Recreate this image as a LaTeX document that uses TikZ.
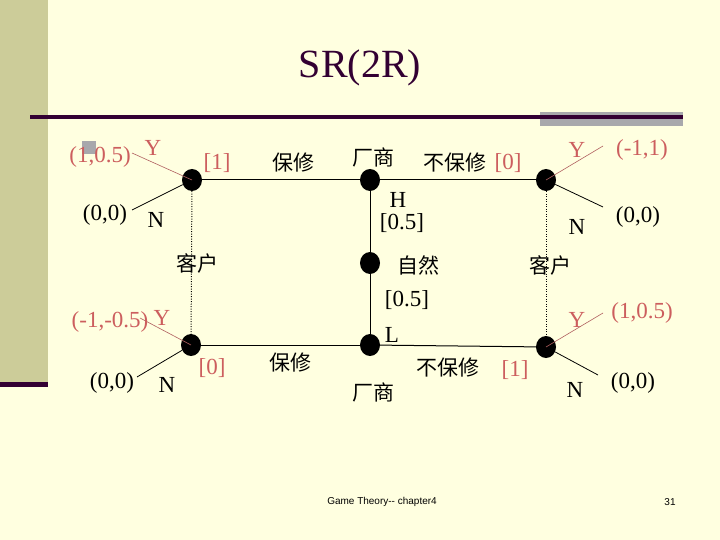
\documentclass[tikz,border=0pt]{standalone}
\usepackage{fontspec}
\setmainfont{Liberation Serif}
\newfontfamily\cjk{Noto Sans CJK SC}
\newfontfamily\footfont{Liberation Sans}
\usetikzlibrary{shapes.geometric}
\definecolor{slidebg}{HTML}{FFFFE0}
\definecolor{bandfill}{HTML}{CCCC99}
\definecolor{ttlplum}{HTML}{330033}
\definecolor{barsilver}{HTML}{A8A8AC}
\definecolor{payred}{HTML}{CC5E5E}
\definecolor{ylink}{HTML}{B06060}
\tikzset{
  dnode/.style={ellipse, fill=black, inner sep=0pt, minimum width=20pt, minimum height=22pt},
  gline/.style={draw=black, line width=1pt},
  ybr/.style={draw=ylink, line width=0.6pt},
  nbr/.style={draw=black, line width=0.8pt},
  infoset/.style={draw=black, line width=1pt, dash pattern=on 1pt off 1.5pt},
  lbl/.style={font=\fontsize{23}{27}\selectfont, inner sep=0pt},
  lblred/.style={lbl, text=payred},
  cn/.style={font=\fontsize{21}{25}\selectfont\cjk, inner sep=0pt},
  ttl/.style={font=\fontsize{40}{46}\selectfont, text=ttlplum, inner sep=0pt},
  foot/.style={font=\fontsize{10}{12}\selectfont\footfont, inner sep=0pt},
}

\begin{document}
\begin{tikzpicture}[x=1pt,y=-1pt]
  \fill[slidebg] (0,0) rectangle (720,540);
  \useasboundingbox (0,0) rectangle (720,540);
  % slide frame
  \fill[bandfill] (0,0) rectangle (48,382);
  \fill[ttlplum] (0,382) rectangle (48,387);
  \fill[barsilver] (540,112) rectangle (683,126);
  \fill[ttlplum] (30,115.5) rectangle (683,119);
  \node[ttl] (title) at (360,68) {SR(2R)};

  % decision nodes
  \node[dnode] (nat) at (370,263) {};
  \node[dnode] (mH) at (370,180) {};
  \node[dnode] (mL) at (370,345) {};
  \node[dnode] (cHw) at (192,180) {};
  \node[dnode] (cHn) at (546,180) {};
  \node[dnode] (cLw) at (191,345) {};
  \node[dnode] (cLn) at (546,347) {};

  \draw[gline] (mH) -- (nat);
  \draw[gline] (nat) -- (mL);
  \draw[gline] (cHw) -- (mH);
  \draw[gline] (mH) -- (cHn);
  \draw[gline] (cLw) -- (mL);
  \draw[gline] (mL) -- (cLn);
  \draw[infoset] (cHw) -- (cLw);
  \draw[infoset] (cHn) -- (cLn);

  % payoff branches
  \coordinate (endYa) at (132,153);
  \coordinate (endNa) at (132,210);
  \coordinate (endYb) at (603,146);
  \coordinate (endNb) at (603,207);
  \coordinate (endYc) at (140,318);
  \coordinate (endNc) at (137,377);
  \coordinate (endYd) at (603,313);
  \coordinate (endNd) at (598,375);
  \draw[ybr] (cHw.center) -- (endYa);
  \draw[nbr] (cHw) -- (endNa);
  \draw[ybr] (cHn.center) -- (endYb);
  \draw[nbr] (cHn) -- (endNb);
  \draw[ybr] (cLw.center) -- (endYc);
  \draw[nbr] (cLw) -- (endNc);
  \draw[ybr] (cLn.center) -- (endYd);
  \draw[nbr] (cLn) -- (endNd);

  % labels, top half
  \fill[barsilver] (82,141) rectangle (96,154);
  \node[lblred] (payHwY) at (100,157) {(1,0.5)};
  \node[lblred] (yHw) at (153,148) {Y};
  \node[lbl] (payHwN) at (105,215) {(0,0)};
  \node[lbl] (nHw) at (156,220) {N};
  \node[lblred] (prHw) at (217,163) {[1]};
  \node[cn] (warrH) at (293,163) {保修};
  \node[cn] (firmH) at (373,157) {厂商};
  \node[cn] (nowarrH) at (455,163) {不保修};
  \node[lblred] (prHn) at (508,163) {[0]};
  \node[lbl] (typeH) at (398,200) {H};
  \node[lbl] (probH) at (402,223) {[0.5]};
  \node[cn] (natlbl) at (418,265) {自然};
  \node[lblred] (yHn) at (577,150) {Y};
  \node[lblred] (payHnY) at (642,150) {(-1,1)};
  \node[lbl] (nHn) at (577,227) {N};
  \node[lbl] (payHnN) at (638,217) {(0,0)};
  \node[cn] (custR) at (550,265) {客户};
  \node[cn] (custL) at (197,263) {客户};

  % labels, bottom half
  \node[lblred] (payLwY) at (110,322) {(-1,-0.5)};
  \node[lblred] (yLw) at (162,318) {Y};
  \node[lbl] (payLwN) at (112,383) {(0,0)};
  \node[lbl] (nLw) at (167,385) {N};
  \node[lblred] (prLw) at (212,368) {[0]};
  \node[lbl] (probL) at (407,300) {[0.5]};
  \node[lbl] (typeL) at (392,335) {L};
  \node[cn] (warrL) at (290,363) {保修};
  \node[cn] (firmL) at (373,392) {厂商};
  \node[cn] (nowarrL) at (448,368) {不保修};
  \node[lblred] (prLn) at (515,370) {[1]};
  \node[lblred] (yLn) at (577,320) {Y};
  \node[lblred] (payLnY) at (642,313) {(1,0.5)};
  \node[lbl] (nLn) at (575,390) {N};
  \node[lbl] (payLnN) at (633,383) {(0,0)};

  % footer
  \node[foot] (footer) at (382,502) {Game Theory-- chapter4};
  \node[foot] (pageno) at (670,502) {31};
\end{tikzpicture}
\end{document}
